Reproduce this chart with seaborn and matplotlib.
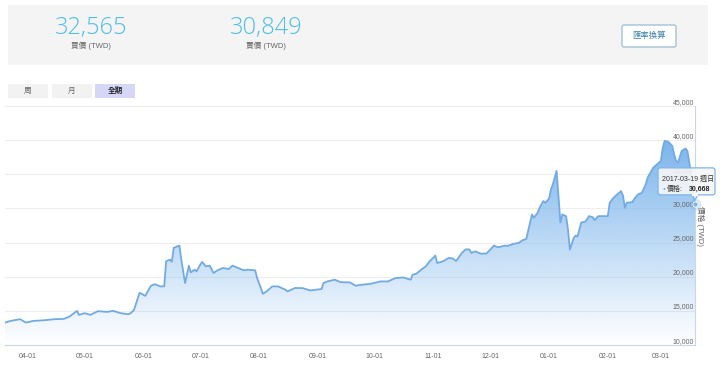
import numpy as np
import pandas as pd
import matplotlib.pyplot as plt
import matplotlib.dates as mdates
from matplotlib.patches import FancyBboxPatch, Rectangle, Polygon
import seaborn as sns

# price history (TWD)
dates = [
    "2016-03-20", "2016-03-23", "2016-03-28", "2016-03-31", "2016-04-04", "2016-04-10",
    "2016-04-15", "2016-04-20", "2016-04-23", "2016-04-27", "2016-04-28", "2016-05-01",
    "2016-05-04", "2016-05-08", "2016-05-13", "2016-05-16", "2016-05-20", "2016-05-24",
    "2016-05-25", "2016-05-27", "2016-05-30", "2016-06-02", "2016-06-05", "2016-06-07",
    "2016-06-10", "2016-06-12", "2016-06-13", "2016-06-15", "2016-06-16", "2016-06-17",
    "2016-06-19", "2016-06-20", "2016-06-21", "2016-06-23", "2016-06-25", "2016-06-26",
    "2016-06-28", "2016-06-29", "2016-07-01", "2016-07-02", "2016-07-04", "2016-07-06",
    "2016-07-08", "2016-07-10", "2016-07-13", "2016-07-16", "2016-07-18", "2016-07-21",
    "2016-07-24", "2016-07-26", "2016-07-30", "2016-07-31", "2016-08-02", "2016-08-03",
    "2016-08-05", "2016-08-08", "2016-08-11", "2016-08-15", "2016-08-16", "2016-08-20",
    "2016-08-24", "2016-08-28", "2016-08-31", "2016-09-03", "2016-09-04", "2016-09-06",
    "2016-09-10", "2016-09-13", "2016-09-18", "2016-09-21", "2016-09-24", "2016-09-29",
    "2016-10-04", "2016-10-08", "2016-10-12", "2016-10-16", "2016-10-20", "2016-10-21",
    "2016-10-23", "2016-10-26", "2016-10-28", "2016-10-30", "2016-11-02", "2016-11-03",
    "2016-11-06", "2016-11-09", "2016-11-11", "2016-11-13", "2016-11-16", "2016-11-18",
    "2016-11-20", "2016-11-21", "2016-11-23", "2016-11-26", "2016-11-29", "2016-12-03",
    "2016-12-05", "2016-12-09", "2016-12-10", "2016-12-13", "2016-12-16", "2016-12-18",
    "2016-12-20", "2016-12-23", "2016-12-24", "2016-12-26", "2016-12-27", "2016-12-29",
    "2016-12-30", "2017-01-01", "2017-01-02", "2017-01-03", "2017-01-05", "2017-01-07",
    "2017-01-08", "2017-01-10", "2017-01-11", "2017-01-12", "2017-01-14", "2017-01-15",
    "2017-01-16", "2017-01-18", "2017-01-20", "2017-01-21", "2017-01-22", "2017-01-24",
    "2017-01-25", "2017-01-27", "2017-01-29", "2017-02-01", "2017-02-02", "2017-02-04",
    "2017-02-06", "2017-02-08", "2017-02-09", "2017-02-10", "2017-02-11", "2017-02-14",
    "2017-02-15", "2017-02-17", "2017-02-19", "2017-02-21", "2017-02-22", "2017-02-24",
    "2017-02-25", "2017-02-27", "2017-03-01", "2017-03-02", "2017-03-03", "2017-03-05",
    "2017-03-07", "2017-03-08", "2017-03-09", "2017-03-10", "2017-03-12", "2017-03-14",
    "2017-03-15", "2017-03-16", "2017-03-18", "2017-03-19",
]
prices = [
    13280, 13530, 13780, 13280, 13530, 13630,
    13780, 13820, 14160, 15000, 14410, 14660,
    14410, 14950, 14850, 15000, 14660, 14510,
    14600, 15100, 17650, 17200, 18680, 18900,
    18580, 18600, 22250, 22500, 22200, 24220,
    24460, 24560, 22500, 19070, 21620, 20630,
    21030, 20780, 21760, 22160, 21520, 21620,
    20540, 20930, 21280, 21130, 21620, 21280,
    20930, 21030, 20930, 19800, 18330, 17500,
    17840, 18580, 18580, 18090, 17840, 18350,
    18330, 17990, 18100, 18190, 19070, 19310,
    19560, 19210, 19160, 18680, 18820, 18970,
    19310, 19310, 19800, 19900, 19560, 20290,
    20440, 21130, 21520, 22250, 23090, 22010,
    22250, 22740, 22700, 22300, 23480, 24000,
    24000, 23480, 23720, 23380, 23400, 24560,
    24310, 24560, 24500, 24800, 24950, 25340,
    25540, 29120, 28630, 29370, 30100, 31080,
    30830, 31420, 32790, 33530, 35490, 27940,
    29120, 28870, 26910, 23970, 25690, 26030,
    25900, 27940, 28030, 28380, 28870, 28720,
    28300, 28870, 28870, 28870, 30830, 31570,
    32060, 32540, 31900, 30100, 30830, 30930,
    31420, 32060, 32300, 33530, 34510, 35490,
    35980, 36470, 36960, 38920, 39900, 39750,
    39160, 37940, 36960, 36720, 38430, 38780,
    38430, 36720, 33000, 30668,
]

y_ticks = [10000, 15000, 20000, 25000, 30000, 35000, 40000, 45000]
month_ticks = ["2016-04-01", "2016-05-01", "2016-06-01", "2016-07-01", "2016-08-01",
               "2016-09-01", "2016-10-01", "2016-11-01", "2016-12-01", "2017-01-01",
               "2017-02-01", "2017-03-01"]
buy_price = "32,565"
sell_price = "30,849"
range_buttons = ["周", "月", "全期"]
tooltip_date = "2017-03-19 週日"

df = pd.DataFrame({"date": pd.to_datetime(dates), "price": prices})

sns.set_style("white")
plt.rcParams["font.family"] = ["Liberation Sans", "Noto Sans CJK TC", "DejaVu Sans"]

blue = "#7cb5ec"
line_blue = "#72abe4"
grey_txt = "#666666"
axis_col = "#ccd6eb"

fig = plt.figure(figsize=(7.2, 3.66), dpi=100)

# main chart
ax = fig.add_axes([5 / 720, 21 / 366, 690 / 720, 239 / 366])
sns.lineplot(data=df, x="date", y="price", ax=ax, color=line_blue, linewidth=1.3,
             estimator=None, zorder=4)

x0, x1 = df["date"].iloc[0], df["date"].iloc[-1]
ymin, ymax = y_ticks[0], y_ticks[-1]

# gradient area under the line
poly = ax.fill_between(df["date"], df["price"], ymin, color="none", lw=0)
top = df["price"].max()
n = 256
grad = np.zeros((n, 1, 4))
grad[:, 0, 0] = 124 / 255
grad[:, 0, 1] = 181 / 255
grad[:, 0, 2] = 236 / 255
grad[:, 0, 3] = np.linspace(1.0, 0.0, n)
img = ax.imshow(grad, aspect="auto", origin="upper",
                extent=[mdates.date2num(x0), mdates.date2num(x1), ymin, top], zorder=3)
img.set_clip_path(poly.get_paths()[0], transform=ax.transData)

ax.set_xlim(x0, x1)
ax.set_ylim(ymin, ymax)
ax.set_xlabel("")
ax.set_ylabel("")

ax.set_yticks(y_ticks)
ax.set_yticklabels([])
ax.yaxis.grid(True, color="#eeeeee", lw=0.8)
ax.xaxis.grid(False)
ax.tick_params(axis="y", length=0)
for v in y_ticks:
    ax.annotate(f"{v:,}", xy=(1, v), xycoords=("axes fraction", "data"),
                xytext=(-0.5, 0.3), textcoords="offset points",
                ha="right", va="bottom", fontsize=5, color=grey_txt, zorder=6)

ax.set_xticks(pd.to_datetime(month_ticks))
ax.xaxis.set_major_formatter(mdates.DateFormatter("%m-%d"))
ax.tick_params(axis="x", direction="out", length=3.5, width=0.8, color=axis_col,
               labelsize=5, labelcolor=grey_txt, pad=2.5)

for side in ["top", "left"]:
    ax.spines[side].set_visible(False)
for side in ["bottom", "right"]:
    ax.spines[side].set_visible(True)
    ax.spines[side].set_color(axis_col)
    ax.spines[side].set_linewidth(0.8)

ax.annotate("價格 (TWD)", xy=(1, 0.5), xycoords="axes fraction", xytext=(4, 0),
            textcoords="offset points", rotation=270, ha="center", va="center",
            fontsize=5.5, color=grey_txt)

# hover marker on the last point
lx, ly = x1, df["price"].iloc[-1]
ax.scatter([lx], [ly], s=70, color=blue, alpha=0.3, lw=0, zorder=7, clip_on=False)
ax.scatter([lx], [ly], s=14, color=blue, edgecolor="white", lw=0.6, zorder=8, clip_on=False)

# overlay in pixel coordinates for header + tooltip
ov = fig.add_axes([0, 0, 1, 1], zorder=10)
ov.set_xlim(0, 720)
ov.set_ylim(366, 0)
ov.set_axis_off()

ov.add_patch(Rectangle((8, 5), 700, 60, color="#f4f4f4", lw=0))
ov.text(91, 28, buy_price, ha="center", va="center", fontsize=17, color="#4bbfe8",
        family=["Open Sans", "DejaVu Sans"], fontweight="light")
ov.text(91, 46, "買價 (TWD)", ha="center", va="center", fontsize=5.5, color=grey_txt)
ov.text(266, 28, sell_price, ha="center", va="center", fontsize=17, color="#4bbfe8",
        family=["Open Sans", "DejaVu Sans"], fontweight="light")
ov.text(266, 46, "賣價 (TWD)", ha="center", va="center", fontsize=5.5, color=grey_txt)
ov.add_patch(FancyBboxPatch((622, 25), 54, 22, boxstyle="round,pad=0,rounding_size=2",
                            fc="white", ec="#8db5cf", lw=0.8))
ov.text(649, 36, "匯率換算", ha="center", va="center", fontsize=6, color="#3f7fa8")

# range selector buttons
btn_x = [8, 52, 95]
for bx, label in zip(btn_x, range_buttons):
    active = label == range_buttons[-1]
    ov.add_patch(Rectangle((bx, 84), 40, 14, color="#d6d6f6" if active else "#f2f2f2", lw=0))
    ov.text(bx + 20, 91, label, ha="center", va="center", fontsize=5.5,
            color="#222222" if active else grey_txt,
            fontweight="bold" if active else "normal")

# tooltip
px, py = ov.transData.inverted().transform(ax.transData.transform((mdates.date2num(lx), ly)))
tx0, ty0, tw, th = px - 37, py - 36, 57, 27
ov.add_patch(FancyBboxPatch((tx0, ty0), tw, th, boxstyle="round,pad=0,rounding_size=2.5",
                            fc=(0.97, 0.97, 0.97, 0.9), ec=blue, lw=0.9))
ov.add_patch(Polygon([[px - 3, ty0 + th], [px + 3, ty0 + th], [px, py - 4]],
                     closed=True, fc=(0.97, 0.97, 0.97, 0.9), ec=blue, lw=0.9))
ov.add_patch(Rectangle((px - 2.6, ty0 + th - 1.2), 5.2, 2, color=(0.97, 0.97, 0.97), lw=0))
ov.text(tx0 + 4, ty0 + 11, tooltip_date, ha="left", va="center", fontsize=5, color="#333333")
ov.text(tx0 + 5, ty0 + 21, "●", ha="left", va="center", fontsize=3.5, color=blue)
ov.text(tx0 + 9, ty0 + 21, "價格:", ha="left", va="center", fontsize=5, color="#333333")
ov.text(tx0 + tw - 5, ty0 + 21, f"{prices[-1]:,}",
        ha="right", va="center", fontsize=5, color="#222222", fontweight="bold")

fig.savefig("out.png", dpi=100)
